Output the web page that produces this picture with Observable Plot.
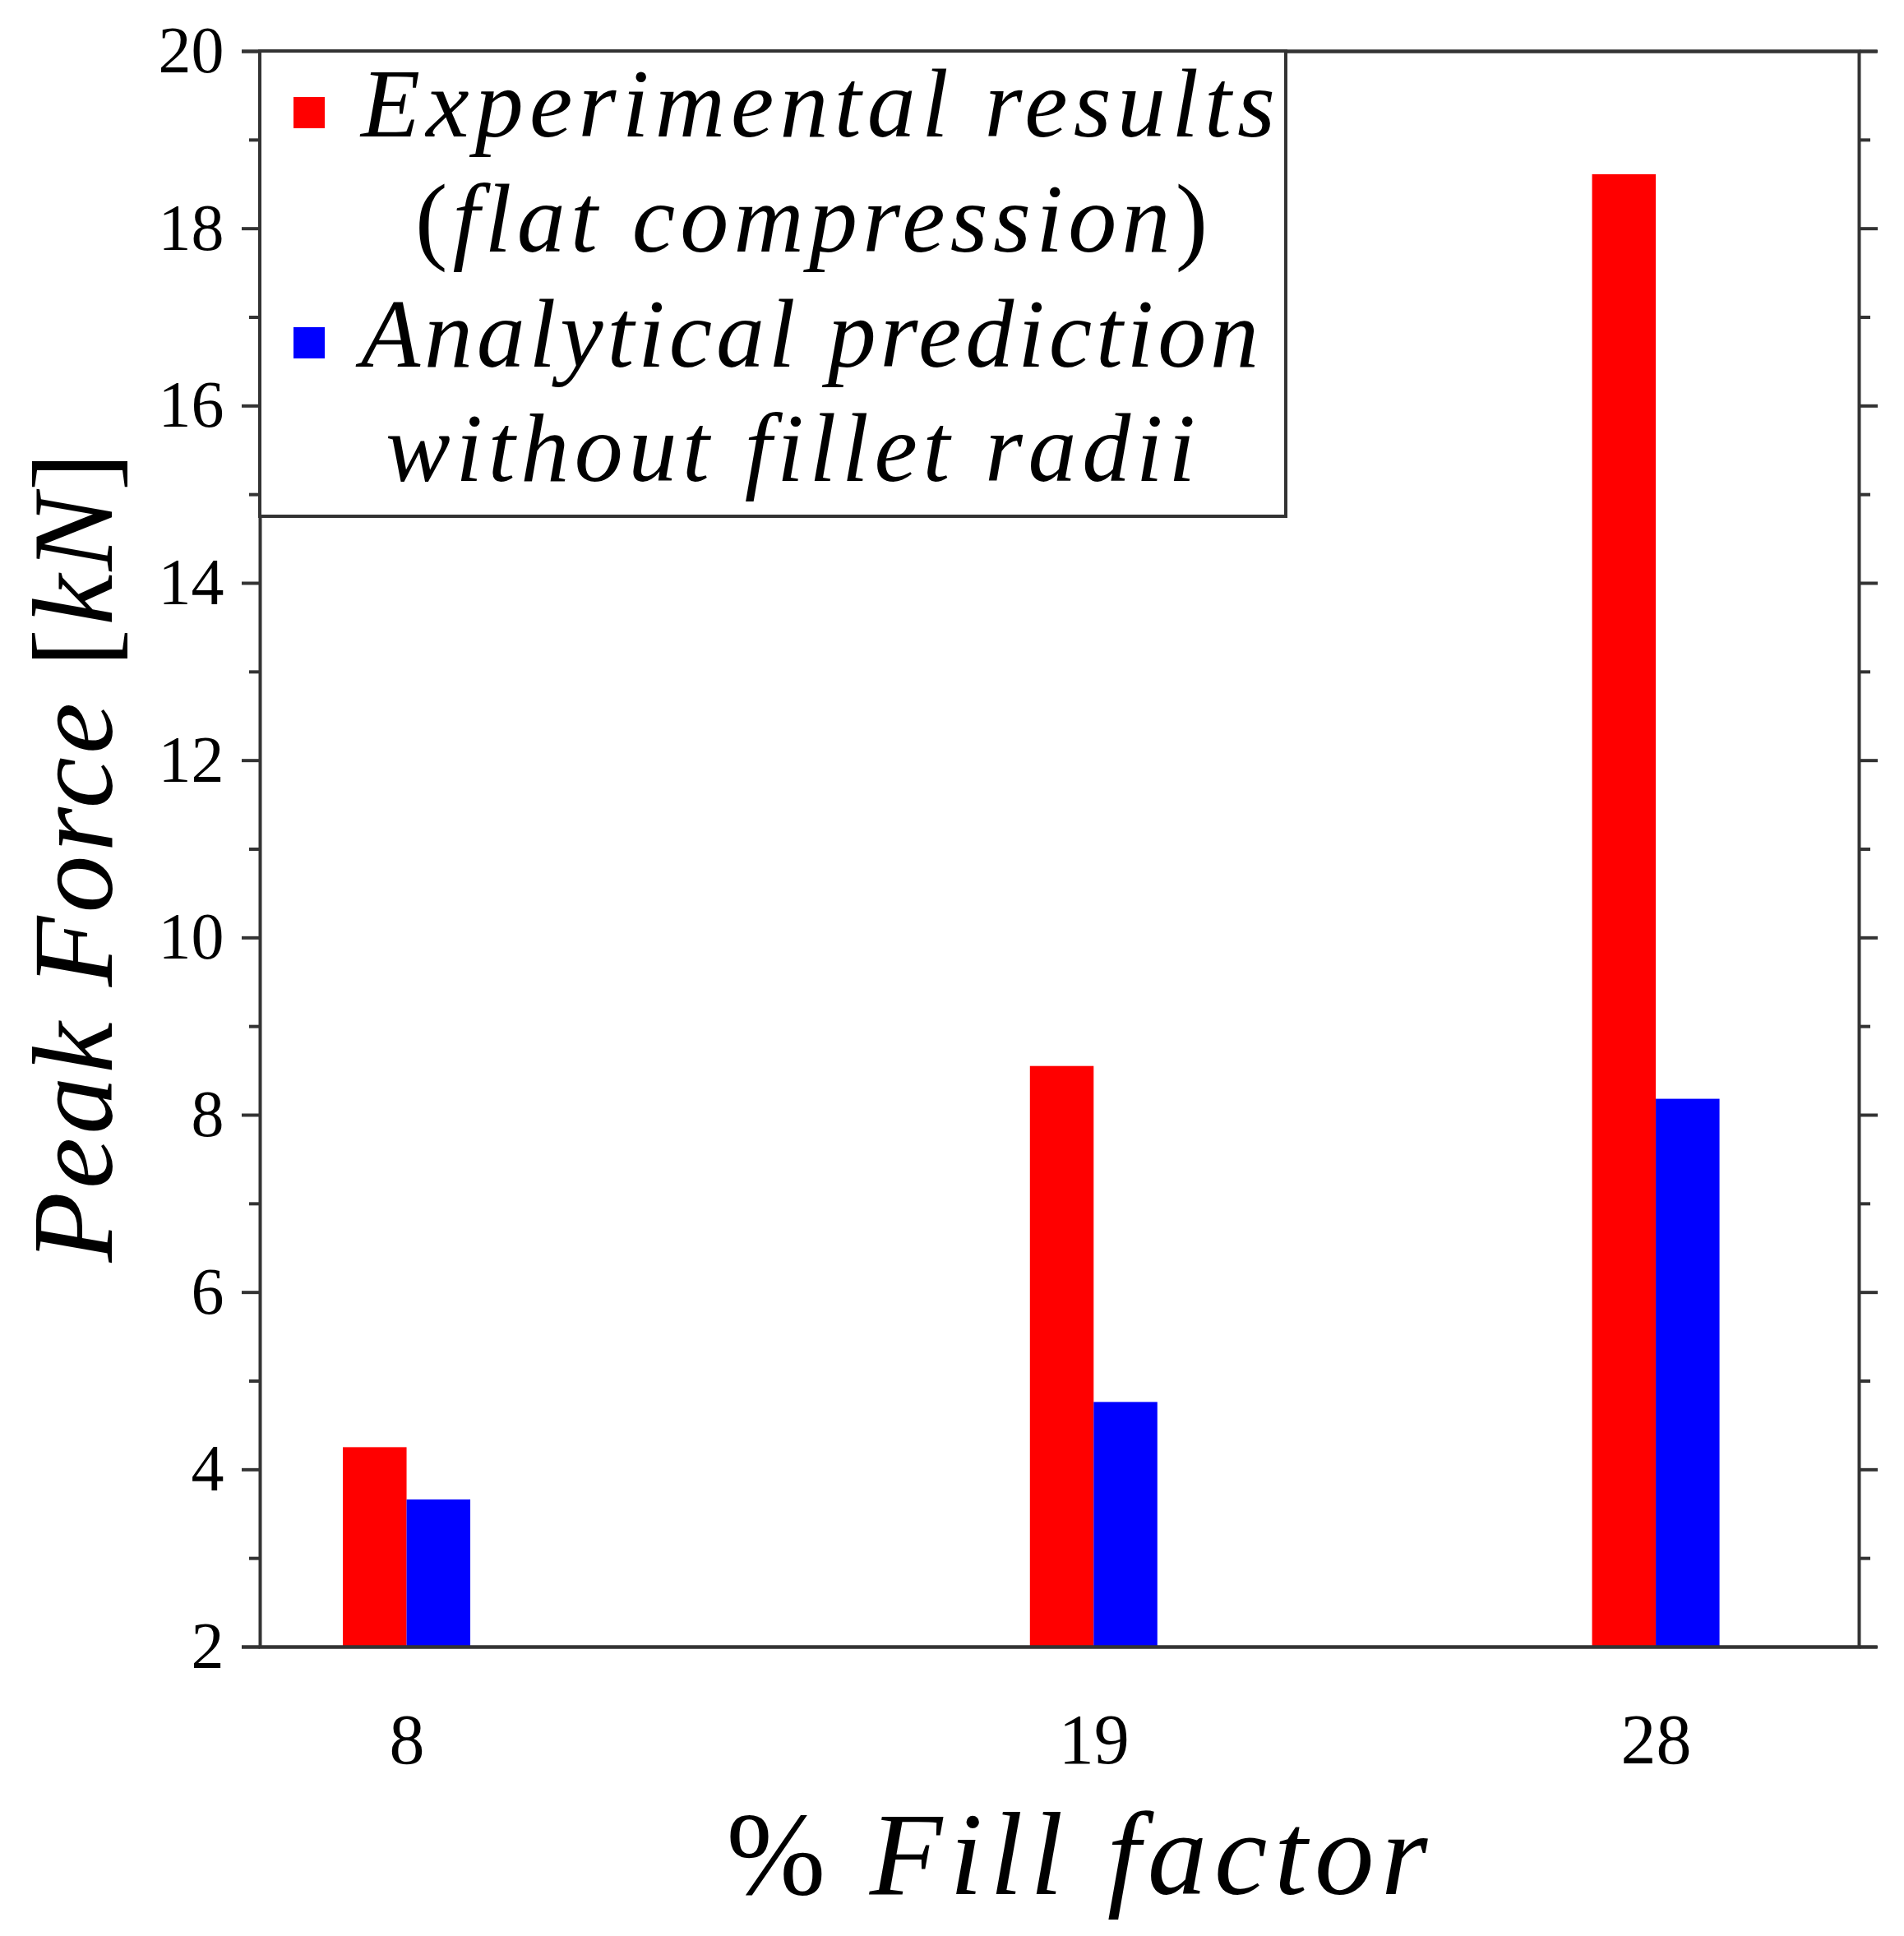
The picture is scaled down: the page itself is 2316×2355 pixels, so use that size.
<!DOCTYPE html>
<html>
<head>
<meta charset="utf-8">
<script src="https://cdn.jsdelivr.net/npm/d3@7"></script>
<script src="https://cdn.jsdelivr.net/npm/@observablehq/plot@0.6"></script>
<style>
  html, body { margin: 0; padding: 0; background: #fff; }
  #chart { width: 2316px; height: 2355px; }
</style>
</head>
<body>
<div id="chart"></div>
<script>
// ----------------- data -----------------
const fillFactors = [8, 19, 28];
const experimental = [4.25, 8.55, 18.61];   // flat compression
const analytical = [3.66, 4.76, 8.18];      // without fillet radii
const seriesNames = ["Experimental results (flat compression)", "Analytical prediction without fillet radii"];
const seriesColors = ["#ff0000", "#0000ff"];
const yMajor = [2, 4, 6, 8, 10, 12, 14, 16, 18, 20];
const yMinor = [3, 5, 7, 9, 11, 13, 15, 17, 19];
const yMin = 2, yMax = 20;
const yLabel = "Peak Force [kN]";
const xLabel = "% Fill factor";

// ----------------- layout -----------------
const W = 2316, H = 2355;
const SERIF = "'Liberation Serif', 'DejaVu Serif', serif";
const INK = "#333";
const barW = 1.02; // bar width in x units

const rows = fillFactors.flatMap((f, i) => [
  { fill: f, series: seriesNames[0], value: experimental[i], side: 0 },
  { fill: f, series: seriesNames[1], value: analytical[i], side: 1 }
]);

const fig = Plot.plot({
  width: W, height: H,
  marginLeft: 316, marginRight: 55, marginTop: 62, marginBottom: 352,
  style: { fontFamily: SERIF, background: "#fff", color: "#000" },
  x: { domain: [5.65, 31.25] },
  y: { domain: [yMin, yMax] },
  color: { domain: seriesNames, range: seriesColors },
  marks: [
    Plot.rectY(rows, {
      x1: d => d.fill + (d.side - 1) * barW,
      x2: d => d.fill + d.side * barW,
      y1: yMin, y2: "value", fill: "series"
    }),
    Plot.frame({ stroke: INK, strokeWidth: 4 }),
    Plot.ruleY([yMin, yMax], { insetLeft: -22, insetRight: -22, stroke: INK, strokeWidth: 4 }),
    Plot.axisY({ ticks: yMajor, tickSize: 22, tickPadding: 22, strokeWidth: 4, stroke: INK,
                 fontSize: 80, fontFamily: SERIF, label: null, tickFormat: d => d }),
    Plot.axisY({ ticks: yMinor, tickSize: 13, strokeWidth: 4, stroke: INK, text: null, label: null }),
    Plot.axisY({ anchor: "right", ticks: yMajor, tickSize: 22, strokeWidth: 4, stroke: INK, text: null, label: null }),
    Plot.axisY({ anchor: "right", ticks: yMinor, tickSize: 13, strokeWidth: 4, stroke: INK, text: null, label: null }),
    Plot.axisX({ ticks: fillFactors, tickSize: 0, tickPadding: 80, fontSize: 86, fontFamily: SERIF,
                 label: null, tickFormat: d => d }),
    Plot.text([yLabel], {
      text: d => d, frameAnchor: "left", rotate: -90, dx: -181, dy: 10,
      lineAnchor: "bottom", textAnchor: "middle", fontSize: 140, fontFamily: SERIF
    }),
    Plot.text([xLabel], {
      text: d => d, frameAnchor: "bottom", dx: 21, dy: 300,
      lineAnchor: "bottom", textAnchor: "middle", fontSize: 145, fontFamily: SERIF
    })
  ]
});

// --------------- helpers -----------------
// text made of italic (math) and upright parts, stretched to a given length
function richText(sel, parts, len){
  sel.text("");
  parts.forEach(([s, italic]) => sel.append("tspan").attr("font-style", italic ? "italic" : "normal").text(s));
  if (len) sel.attr("textLength", len).attr("lengthAdjust", "spacing");
}
function findText(svg, str){
  return svg.selectAll("text").filter(function(){ return this.textContent === str; });
}

const svg = d3.select(fig);
richText(findText(svg, yLabel), [["Peak Force ", 1], ["[", 0], ["kN", 1], ["]", 0]], 985);
richText(findText(svg, xLabel), [["% ", 0], ["Fill factor", 1]], 853);

// --------------- legend (inside the axes, top-left) -----------------
const legendLines = [
  { parts: [["Experimental results", 1]], x: 439, y: 166, len: 1112, swatch: 0 },
  { parts: [["(", 0], ["flat compression", 1], [")", 0]], x: 505, y: 306, len: 964 },
  { parts: [["Analytical prediction", 1]], x: 439, y: 446, len: 1092, swatch: 1 },
  { parts: [["without fillet radii", 1]], x: 469, y: 585, len: 985 }
];
const lg = svg.append("g").attr("aria-label", "legend").attr("text-anchor", "start");
lg.append("rect").attr("x", 316).attr("y", 62).attr("width", 1248).attr("height", 566)
  .attr("fill", "#fff").attr("stroke", INK).attr("stroke-width", 4);
legendLines.forEach(l => {
  if (l.swatch !== undefined) {
    lg.append("rect").attr("x", 357).attr("y", l.y - 48).attr("width", 38).attr("height", 38)
      .attr("fill", seriesColors[l.swatch]);
  }
  const t = lg.append("text").attr("x", l.x).attr("y", l.y).attr("text-anchor", "start")
    .attr("font-family", SERIF).attr("font-size", 118).attr("fill", "#000");
  richText(t, l.parts, l.len);
});

document.getElementById("chart").appendChild(fig);
</script>
</body>
</html>
